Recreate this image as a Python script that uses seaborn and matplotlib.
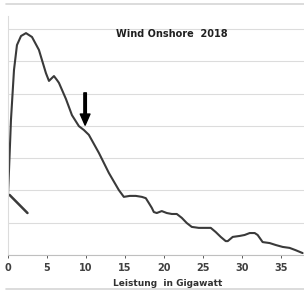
import pandas as pd
import matplotlib.pyplot as plt
import seaborn as sns
from matplotlib.lines import Line2D

# ======================================================================
# DATA (Leistung in GW vs. Häufigkeit, relative Einheiten)
# ======================================================================
leistung_gw = [0.0, 0.13, 0.38, 0.77, 1.15, 1.67, 2.31, 3.08, 3.97, 4.87,
               5.26, 5.64, 5.90, 6.28, 6.54, 7.44, 8.21, 9.10, 9.74, 10.38,
               11.67, 12.95, 14.23, 14.87, 15.64, 16.41, 17.18, 17.69, 18.08, 18.46,
               18.72, 19.10, 19.74, 20.38, 21.03, 21.67, 22.31, 22.95, 23.59, 24.49,
               25.38, 26.03, 26.67, 27.31, 27.95, 28.21, 28.85, 29.74, 30.38, 31.03,
               31.67, 32.05, 32.69, 33.59, 34.36, 35.26, 36.15, 36.92, 37.82]
haeufigkeit = [186, 263, 418, 573, 650, 678, 687, 675, 635, 563,
               539, 548, 554, 542, 533, 483, 433, 399, 387, 372,
               316, 254, 201, 180, 183, 183, 180, 176, 161, 146,
               133, 130, 136, 130, 127, 127, 115, 99, 87, 84,
               84, 84, 71, 56, 43, 43, 56, 59, 62, 68,
               68, 62, 40, 37, 31, 25, 22, 15, 6]

# kurzer Ausreisser-Ast am Nullpunkt
tail_gw = [0.2, 2.5]
tail_val = [186, 130]

x_ticks = [0, 5, 10, 15, 20, 25, 30, 35]
titel = 'Wind Onshore  2018'
x_label = 'Leistung  in Gigawatt'


def run_plot():
    sns.set_style('white')
    df = pd.DataFrame({'gw': leistung_gw, 'wert': haeufigkeit})
    df_tail = pd.DataFrame({'gw': tail_gw, 'wert': tail_val})

    fig = plt.figure(figsize=(3.04, 2.96), dpi=100)
    ax = fig.add_axes([8 / 304, 41 / 296, 296 / 304, 239 / 296])

    sns.lineplot(data=df, x='gw', y='wert', ax=ax, color='#3a3a3a', linewidth=1.5)
    sns.lineplot(data=df_tail, x='gw', y='wert', ax=ax, color='#3a3a3a', linewidth=1.8)

    # Pfeil bei ca. 10 GW
    ax.annotate('', xy=(9.9, 402), xytext=(9.9, 502),
                arrowprops=dict(facecolor='black', edgecolor='black', width=1.8,
                                headwidth=7, headlength=8))

    ax.set_xlim(0, 38)
    ax.set_ylim(0, 740)
    ax.set_xticks(x_ticks)
    ax.set_yticks(range(0, 701, 100))
    ax.set_yticklabels([])
    ax.grid(axis='y', color='#dcdcdc', linewidth=0.8)
    ax.tick_params(axis='x', labelsize=7, colors='#404040', length=2, width=0.6,
                   direction='out', bottom=True, pad=4)
    ax.tick_params(axis='y', length=0)
    for lbl in ax.get_xticklabels():
        lbl.set_fontweight('bold')

    for side in ['top', 'right']:
        ax.spines[side].set_visible(False)
    ax.spines['left'].set_color('#dcdcdc')
    ax.spines['bottom'].set_color('#bfbfbf')
    ax.spines['left'].set_linewidth(0.8)
    ax.spines['bottom'].set_linewidth(0.8)

    ax.set_xlabel('')
    ax.set_ylabel('')
    ax.text(0.555, 0.925, titel, transform=ax.transAxes, ha='center', va='center',
            fontsize=7, fontweight='bold', color='#202020')
    fig.text(168 / 304, 1 - 283 / 296, x_label, ha='center', va='center',
             fontsize=6.5, fontweight='bold', color='#303030')

    # Rahmenlinien oben und unten
    fig.add_artist(Line2D([6 / 304, 1], [1 - 4 / 296] * 2, color='#d6d6d6', linewidth=1.2))
    fig.add_artist(Line2D([6 / 304, 1], [1 - 289 / 296] * 2, color='#d6d6d6', linewidth=1.2))

    fig.savefig('out.png', dpi=100)


if __name__ == "__main__":
    run_plot()
